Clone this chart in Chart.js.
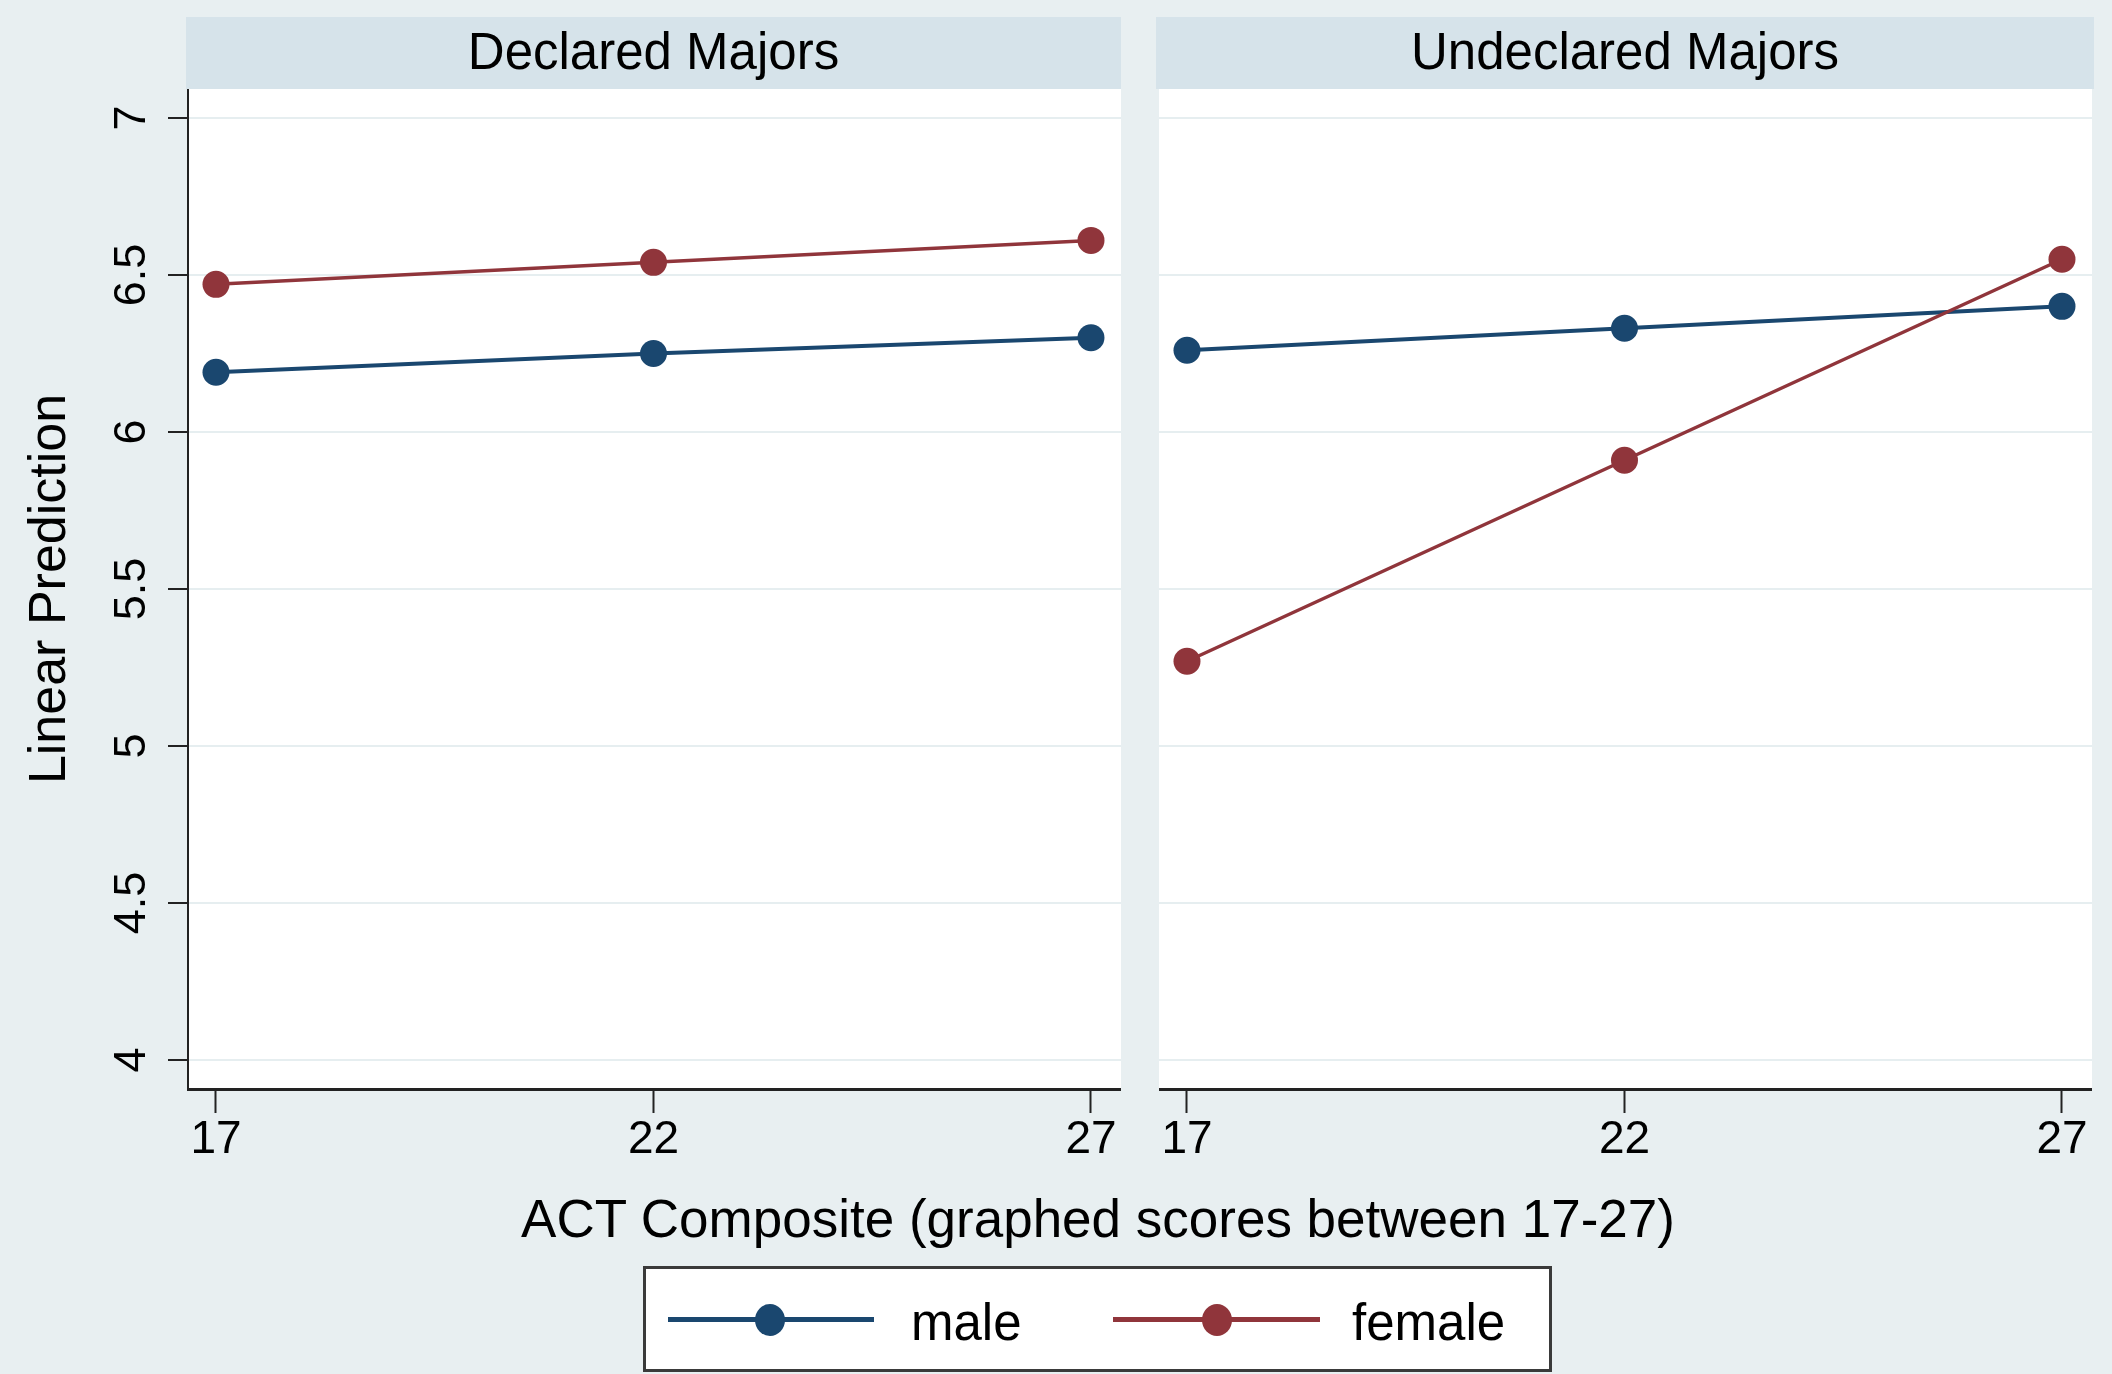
<!DOCTYPE html>
<html>
<head>
<meta charset="utf-8">
<script src="https://cdn.jsdelivr.net/npm/chart.js@4.4.1/dist/chart.umd.min.js"></script>
<style>
body { margin:0; background:#e8eff1; width:2112px; height:1374px; position:relative; overflow:hidden;
       font-family:"Liberation Sans", Arial, sans-serif; color:#000; }
.strip { position:absolute; top:17px; height:72px; background:#d6e3ea; }
.strip span { position:absolute; left:0; right:0; top:9px; text-align:center; font-size:51px; line-height:51px; }
canvas { position:absolute; }
#xtitle { position:absolute; left:0; width:2196px; top:1192px; text-align:center; font-size:53px; line-height:53px; }
#legend { position:absolute; left:643px; top:1266px; width:909px; height:106px; box-sizing:border-box;
          background:#fff; border:3px solid #3a3a3a; }
.lline { position:absolute; height:5px; }
.ldot { position:absolute; width:30px; height:32px; border-radius:50%; }
.ltext { position:absolute; font-size:51px; line-height:51px; top:1297px; }
</style>
</head>
<body>
<div class="strip" style="left:186px;width:935px"><span id="t0"></span></div>
<div class="strip" style="left:1156px;width:938px"><span id="t1"></span></div>
<canvas id="chart0" width="1121" height="1080" style="left:0;top:89px;width:1121px;height:1080px"></canvas>
<canvas id="chart1" width="933" height="1080" style="left:1159px;top:89px;width:933px;height:1080px"></canvas>
<div id="xtitle"></div>
<div id="legend"></div>
<div class="lline" style="left:668px;top:1317px;width:206px;background:#1a476f"></div>
<div class="ldot" style="left:755px;top:1304px;background:#1a476f"></div>
<div class="ltext" id="lab0" style="left:911px"></div>
<div class="lline" style="left:1113px;top:1317px;width:207px;background:#90353b"></div>
<div class="ldot" style="left:1202px;top:1304px;background:#90353b"></div>
<div class="ltext" id="lab1" style="left:1352px"></div>
<script>
// data
var actScores = [17, 22, 27];
var declaredMale = [6.19, 6.25, 6.30];
var declaredFemale = [6.47, 6.54, 6.61];
var undeclaredMale = [6.26, 6.33, 6.40];
var undeclaredFemale = [5.27, 5.91, 6.55];
var yTicks = [4, 4.5, 5, 5.5, 6, 6.5, 7];
var xTicks = [17, 22, 27];
var panelTitles = ["Declared Majors", "Undeclared Majors"];
var seriesNames = ["male", "female"];
var yTitle = "Linear Prediction";
var xTitle = "ACT Composite (graphed scores between 17-27)";

var navy = "#1a476f";
var maroon = "#90353b";

document.getElementById("t0").textContent = panelTitles[0];
document.getElementById("t1").textContent = panelTitles[1];
document.getElementById("xtitle").textContent = xTitle;
document.getElementById("lab0").textContent = seriesNames[0];
document.getElementById("lab1").textContent = seriesNames[1];

function toPoints(ys) {
    var pts = [];
    for (var i = 0; i < actScores.length; i++) {
        pts.push({x: actScores[i], y: ys[i]});
    }
    return pts;
}

// white plot region
var plotBg = {
    id: "plotBg",
    beforeDraw: function (chart) {
        var a = chart.chartArea;
        var c = chart.ctx;
        c.save();
        c.fillStyle = "#ffffff";
        c.fillRect(a.left, a.top, a.right - a.left, a.bottom - a.top);
        c.restore();
    }
};

function makePanel(id, male, female, showY) {
    var ctx = document.getElementById(id);
    return new Chart(ctx, {
        type: "line",
        data: {
            datasets: [
                {label: seriesNames[0], data: toPoints(male), order: 1,
                 borderColor: navy, backgroundColor: navy, borderWidth: 4,
                 pointRadius: 13.5, pointBorderWidth: 0, pointBackgroundColor: navy, tension: 0},
                {label: seriesNames[1], data: toPoints(female), order: 0,
                 borderColor: maroon, backgroundColor: maroon, borderWidth: 3.5,
                 pointRadius: 13.5, pointBorderWidth: 0, pointBackgroundColor: maroon, tension: 0}
            ]
        },
        options: {
            responsive: false,
            animation: false,
            devicePixelRatio: 1,
            layout: {padding: 0, autoPadding: false},
            plugins: {legend: {display: false}, tooltip: {enabled: false}},
            scales: {
                x: {
                    type: "linear",
                    min: 16.68,
                    max: 27.343,
                    afterBuildTicks: function (s) { s.ticks = xTicks.map(function (v) { return {value: v}; }); },
                    afterFit: function (s) { s.height = 80; s.paddingLeft = 0; s.paddingRight = 0; },
                    grid: {drawOnChartArea: false, drawTicks: true, tickLength: 24, tickColor: "#222", tickWidth: 2},
                    border: {display: true, color: "#222", width: 3},
                    ticks: {autoSkip: false, maxRotation: 0, padding: 0, color: "#000",
                            font: {family: "Liberation Sans", size: 46},
                            callback: function (v) { return String(v); }}
                },
                y: {
                    type: "linear",
                    min: 3.908,
                    max: 7.092,
                    afterBuildTicks: function (s) { s.ticks = yTicks.map(function (v) { return {value: v}; }); },
                    afterFit: function (s) { s.width = showY ? 188 : 0; s.paddingTop = 0; s.paddingBottom = 0; },
                    grid: {color: "#e6eef0", lineWidth: 2, drawTicks: showY, tickLength: 20, tickColor: "#222", tickWidth: 2},
                    border: {display: showY, color: "#222", width: 2},
                    title: {display: showY, text: yTitle, color: "#000",
                            font: {family: "Liberation Sans", size: 52}, padding: {top: 19, bottom: 0}},
                    ticks: {display: showY, autoSkip: false, minRotation: 90, maxRotation: 90, crossAlign: "center",
                            padding: 4, color: "#000", font: {family: "Liberation Sans", size: 45},
                            callback: function (v) { return String(v); }}
                }
            }
        },
        plugins: [plotBg]
    });
}

makePanel("chart0", declaredMale, declaredFemale, true);
makePanel("chart1", undeclaredMale, undeclaredFemale, false);
</script>
</body>
</html>
